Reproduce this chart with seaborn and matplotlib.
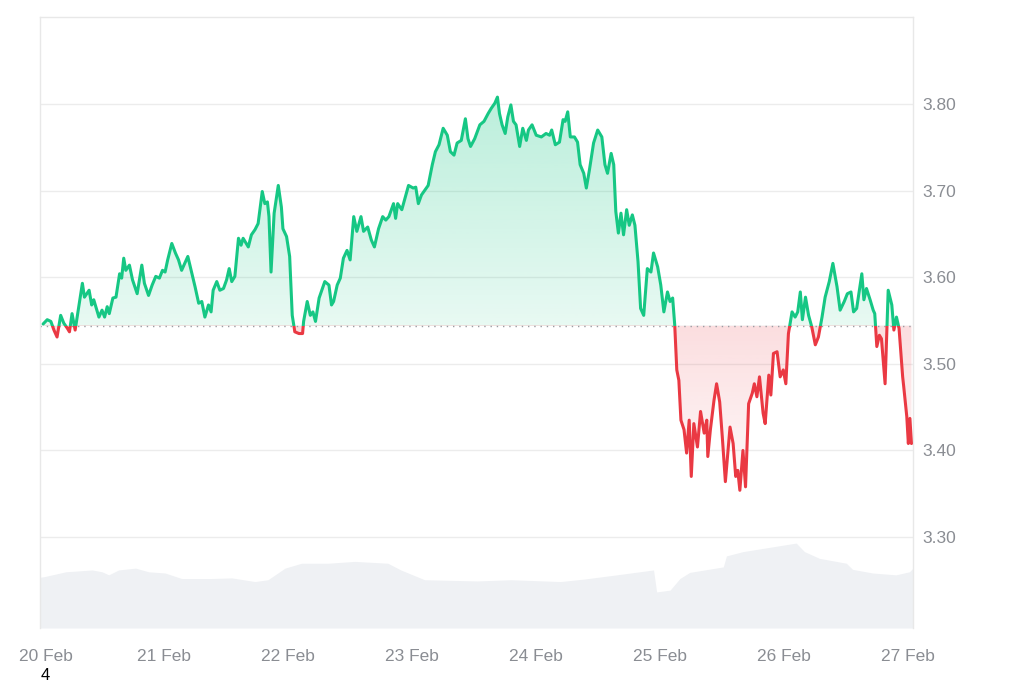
import numpy as np
import pandas as pd
import matplotlib
matplotlib.use("Agg")
import matplotlib.pyplot as plt
from matplotlib.patches import Rectangle
from matplotlib.colors import to_rgb
from matplotlib.transforms import ScaledTranslation
import seaborn as sns

# price, hours since 20 Feb 00:00
hours = [0.6, 1.4, 2.1, 2.7, 3.3, 4.0, 4.6, 5.3, 5.7, 6.2, 6.8, 7.4, 8.2, 8.6, 9.5, 10.0, 10.4, 11.4, 12.0, 12.5,
         13.0, 13.4, 14.1, 14.7, 15.4, 15.8, 16.2, 16.6, 17.3, 17.9, 18.8, 19.7, 20.2, 21.0, 21.7, 22.4, 23.1, 23.7,
         24.2, 24.7, 25.5, 26.2, 26.8, 27.4, 28.6, 29.4, 30.0, 30.7, 31.3, 31.9, 32.6, 33.1, 33.5, 34.2, 34.8, 35.5,
         36.1, 36.6, 37.1, 37.7, 38.4, 38.9, 39.3, 40.3, 40.9, 41.6, 42.2, 43.0, 43.5, 44.0, 44.3, 44.7, 45.3, 46.1,
         46.7, 47.0, 47.7, 48.3, 48.8, 49.3, 50.1, 50.8, 51.0, 51.7, 52.3, 52.8, 53.3, 54.0, 55.1, 55.9, 56.4, 56.8,
         57.5, 58.1, 58.7, 59.4, 60.0, 60.7, 61.3, 62.1, 62.6, 63.4, 64.1, 64.7, 65.5, 66.3, 66.9, 67.5, 68.4, 68.8,
         69.2, 70.0, 71.3, 72.2, 72.7, 73.2, 73.8, 75.1, 75.9, 76.5, 77.2, 78.0, 78.8, 79.4, 80.1, 80.7, 81.5, 82.3,
         82.8, 83.3, 84.1, 85.1, 85.9, 86.7, 87.3, 88.0, 88.5, 88.9, 89.4, 90.0, 90.5, 91.1, 91.6, 92.1, 92.8, 93.4,
         94.1, 94.5, 95.2, 96.0, 97.0, 97.9, 98.6, 99.0, 99.7, 100.5, 101.2, 101.6, 102.1, 102.6, 103.4, 104.0,
         104.5, 105.2, 105.7, 106.3, 107.1, 107.9, 108.7, 109.3, 109.8, 110.5, 111.0, 111.4, 111.9, 112.4, 112.9,
         113.5, 114.0, 114.6, 115.1, 115.7, 116.2, 116.8, 117.5, 118.2, 118.7, 119.5, 120.1, 120.7, 121.4, 121.9,
         122.4, 122.8, 123.2, 123.6, 124.0, 124.6, 125.1, 125.6, 126.0, 126.5, 127.2, 127.8, 128.5, 129.0, 129.2,
         129.7, 130.4, 130.9, 131.5, 132.0, 132.6, 133.5, 134.1, 134.6, 135.0, 135.4, 136.0, 136.5, 137.1, 137.8,
         138.2, 138.7, 139.2, 139.9, 140.3, 141.0, 141.4, 141.9, 142.6, 143.2, 143.8, 144.3, 144.8, 145.5, 146.1,
         146.6, 147.1, 147.5, 148.1, 148.7, 149.3, 150.0, 150.6, 151.3, 151.9, 152.7, 153.4, 154.2, 154.8, 155.6,
         156.2, 156.9, 157.4, 158.0, 159.0, 159.4, 159.9, 160.6, 161.2, 161.5, 161.9, 162.4, 162.8, 163.5, 164.1,
         164.8, 165.2, 165.7, 166.2, 166.9, 167.1, 167.7, 168.0, 168.3, 168.6]
price = [3.546, 3.551, 3.549, 3.539, 3.531, 3.556, 3.547, 3.541, 3.537, 3.558, 3.539, 3.562, 3.593, 3.577, 3.585,
         3.568, 3.574, 3.554, 3.562, 3.554, 3.566, 3.558, 3.576, 3.577, 3.604, 3.599, 3.622, 3.608, 3.614, 3.597,
         3.581, 3.614, 3.593, 3.579, 3.591, 3.601, 3.599, 3.608, 3.606, 3.620, 3.639, 3.628, 3.620, 3.608, 3.624,
         3.604, 3.589, 3.570, 3.572, 3.554, 3.568, 3.560, 3.585, 3.595, 3.585, 3.587, 3.597, 3.610, 3.595, 3.601,
         3.645, 3.637, 3.645, 3.635, 3.649, 3.655, 3.662, 3.699, 3.685, 3.687, 3.670, 3.606, 3.674, 3.706, 3.681,
         3.656, 3.647, 3.624, 3.556, 3.537, 3.535, 3.535, 3.549, 3.572, 3.556, 3.560, 3.549, 3.576, 3.595, 3.591,
         3.568, 3.572, 3.591, 3.599, 3.622, 3.631, 3.620, 3.670, 3.653, 3.670, 3.653, 3.658, 3.643, 3.635, 3.656,
         3.670, 3.666, 3.670, 3.685, 3.668, 3.685, 3.678, 3.706, 3.703, 3.704, 3.685, 3.695, 3.706, 3.730, 3.745,
         3.753, 3.772, 3.764, 3.745, 3.741, 3.755, 3.758, 3.783, 3.760, 3.751, 3.760, 3.776, 3.780, 3.789, 3.795,
         3.801, 3.808, 3.789, 3.776, 3.766, 3.785, 3.799, 3.780, 3.776, 3.751, 3.772, 3.758, 3.770, 3.776, 3.764,
         3.762, 3.766, 3.764, 3.770, 3.753, 3.756, 3.782, 3.780, 3.791, 3.762, 3.762, 3.756, 3.730, 3.720, 3.703,
         3.724, 3.755, 3.770, 3.762, 3.730, 3.720, 3.743, 3.730, 3.676, 3.651, 3.674, 3.649, 3.678, 3.660, 3.672,
         3.660, 3.618, 3.564, 3.556, 3.610, 3.606, 3.628, 3.612, 3.591, 3.560, 3.583, 3.572, 3.576, 3.545, 3.493,
         3.481, 3.435, 3.424, 3.397, 3.435, 3.370, 3.431, 3.404, 3.445, 3.420, 3.435, 3.393, 3.424, 3.458, 3.477,
         3.456, 3.416, 3.364, 3.427, 3.408, 3.370, 3.377, 3.354, 3.400, 3.358, 3.454, 3.466, 3.477, 3.462, 3.485,
         3.443, 3.431, 3.487, 3.464, 3.512, 3.514, 3.485, 3.493, 3.477, 3.535, 3.560, 3.554, 3.560, 3.583, 3.551,
         3.577, 3.556, 3.543, 3.522, 3.531, 3.554, 3.577, 3.595, 3.616, 3.589, 3.562, 3.572, 3.581, 3.583, 3.560,
         3.564, 3.604, 3.574, 3.587, 3.574, 3.562, 3.558, 3.520, 3.533, 3.529, 3.477, 3.585, 3.568, 3.539, 3.554,
         3.541, 3.485, 3.474, 3.439, 3.408, 3.437, 3.408]
open_price = 3.544

# volume (relative units)
vol_hours = [0.0, 0.8, 5.0, 10.1, 12.0, 13.3, 15.2, 18.5, 21.0, 24.2, 27.4, 33.2, 37.1, 41.6, 44.1, 47.4, 50.6,
             55.7, 60.9, 67.3, 69.8, 74.4, 84.6, 91.1, 100.7, 105.2, 111.6, 118.7, 119.3, 121.9, 123.8, 125.7,
             132.2, 132.8, 136.0, 146.3, 147.9, 150.8, 156.0, 157.2, 161.1, 165.6, 168.2, 168.9]
volume = [8.3, 8.4, 9.2, 9.5, 9.2, 8.7, 9.5, 9.8, 9.2, 9.0, 8.1, 8.1, 8.2, 7.6, 7.9, 9.8, 10.6, 10.6, 10.9, 10.6,
          9.5, 7.9, 7.7, 7.9, 7.6, 8.0, 8.7, 9.5, 5.9, 6.2, 8.1, 9.1, 10.0, 11.8, 12.5, 13.9, 12.5, 11.4, 10.6,
          9.6, 9.0, 8.7, 9.2, 9.8]

tick_hours = [0, 24, 48, 72, 96, 120, 144, 168]
tick_labels = ["20 Feb", "21 Feb", "22 Feb", "23 Feb", "24 Feb", "25 Feb", "26 Feb", "27 Feb"]
y_ticks = [3.30, 3.40, 3.50, 3.60, 3.70, 3.80]

green = "#16c784"
red = "#ea3943"
grey_txt = "#8a8d93"

sns.set_theme(style="white")
plt.rcParams["font.family"] = ["Liberation Sans", "DejaVu Sans"]

h = np.array(hours)
p = np.array(price)
xmin, xmax = 0.0, 168.9
ymin, ymax = 3.195, 3.9005

fig = plt.figure(figsize=(10.24, 6.83), dpi=100)
ax = fig.add_axes([40 / 1024, 1 - 628 / 683, 873 / 1024, 611 / 683])
ax2 = ax.twinx()

# volume in the background
ax2.fill_between(vol_hours, volume, 0, color="#eff1f4", lw=0)
ax2.set_ylim(0, 100)
ax2.set_yticks([])
for s in ax2.spines.values():
    s.set_visible(False)
ax.set_zorder(ax2.get_zorder() + 1)
ax.patch.set_visible(False)


def gradient_fill(color, y_top, y_bot, a_top, a_bot):
    poly = ax.fill_between(h, p, open_price, facecolor="none", edgecolor="none")
    img = np.zeros((256, 1, 4))
    img[:, :, :3] = to_rgb(color)
    img[:, 0, 3] = np.linspace(a_top, a_bot, 256)
    im = ax.imshow(img, aspect="auto", extent=[xmin, xmax, y_bot, y_top], origin="upper", zorder=1)
    im.set_clip_path(poly.get_paths()[0], transform=ax.transData)


gradient_fill(green, 3.82, open_price, 0.30, 0.10)
gradient_fill(red, open_price, 3.34, 0.17, 0.02)

# price line, green above the open, red below
df = pd.DataFrame({"hour": hours, "price": price})
for color, y0, hgt in [(green, open_price, 2.0), (red, open_price - 2.0, 2.0)]:
    sns.lineplot(data=df, x="hour", y="price", ax=ax, color=color, lw=2.2,
                 estimator=None, sort=False, zorder=3)
    clip = Rectangle((xmin - 10, y0), xmax + 20, hgt, transform=ax.transData)
    ax.lines[-1].set_clip_path(clip)

ax.axhline(open_price, color="#9a9da3", lw=1, ls=(0, (1, 3.5)), zorder=2)

ax.set_xlim(xmin, xmax)
ax.set_ylim(ymin, ymax)
ax.set_yticks(y_ticks)
ax.set_yticklabels([f"{v:.2f}" for v in y_ticks])
ax.yaxis.tick_right()
ax.yaxis.set_label_position("right")
ax.set_xticks(tick_hours)
ax.set_xticklabels(tick_labels)
ax.tick_params(axis="both", length=0, labelsize=12.5, labelcolor=grey_txt)
ax.tick_params(axis="y", pad=7)
ax.tick_params(axis="x", pad=15)
first = ax.get_xticklabels()[0]
first.set_transform(first.get_transform() + ScaledTranslation(0.06, 0, fig.dpi_scale_trans))
ax.set_xlabel("")
ax.set_ylabel("")
ax.grid(axis="y", color="#ececec", lw=1)
ax.grid(axis="x", visible=False)
for side in ["left", "top", "right"]:
    ax.spines[side].set_color("#e8e8e8")
    ax.spines[side].set_linewidth(1)
ax.spines["bottom"].set_visible(False)

fig.text(45 / 1024, 1 - 676 / 683, "4", fontsize=12, color="black", ha="center", va="center")

fig.savefig("out.png", dpi=100, facecolor="white")
